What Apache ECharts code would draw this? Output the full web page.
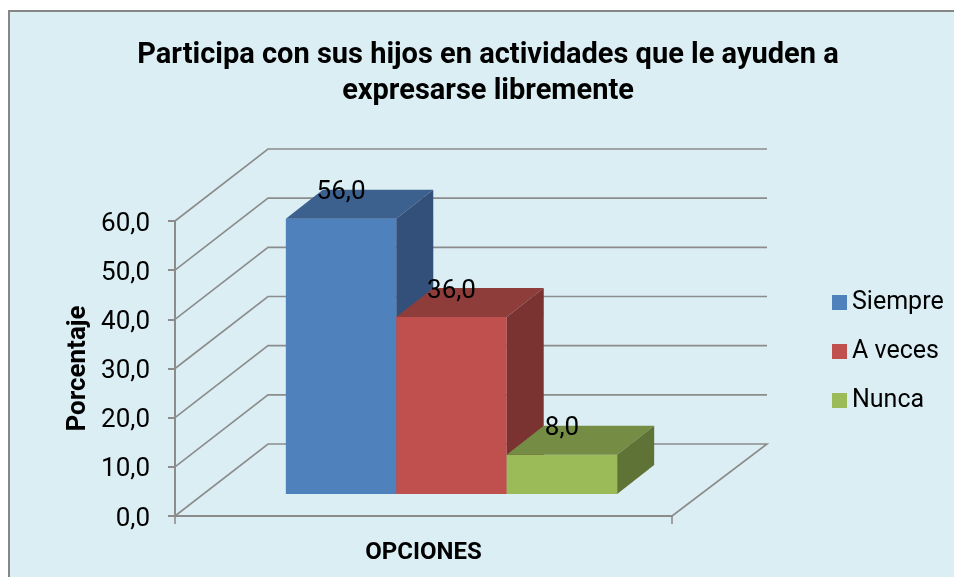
<!DOCTYPE html>
<html>
<head>
<meta charset="utf-8">
<title>Participa con sus hijos</title>
<style>
  html, body { margin: 0; padding: 0; background: #fff; }
  #chart { width: 954px; height: 577px; }
</style>
<script src="https://cdn.jsdelivr.net/npm/echarts@6/dist/echarts.min.js"></script>
</head>
<body>
<div id="chart"></div>
<script>
var categories = ['']
var seriesNames = ['Siempre', 'A veces', 'Nunca']
var seriesValues = [56, 36, 8]
var yTicks = [0, 10, 20, 30, 40, 50, 60]

var colors = ['#4F81BD', '#C0504D', '#9BBB59']
var topColors = ['#3C618F', '#8F3D3B', '#748C43']
var sideColors = ['#325079', '#7A3331', '#5F7337']

var fontName = 'Roboto'
var lineColor = '#8C8C8C'
// wall depth and bar offset, pixels
var wallDx = 93
var wallRightDx = 95
var wallDy = 72
var barShiftX = 28
var barShiftY = 22
var barDepthX = 37
var barDepthY = 29

function fmt (v) {
  return v.toFixed(1).replace('.', ',')
}

function renderWall (params, api) {
  var p = api.coord([0, api.value(0)])
  var size = api.size([1, 0])
  var left = p[0] - size[0] / 2
  var right = p[0] + size[0] / 2
  var y = p[1]
  var pts = [[left, y], [left + wallDx, y - wallDy], [right + wallRightDx, y - wallDy]]
  var lineStyle = { fill: null, stroke: lineColor, lineWidth: 1.6 }
  var children = []
  if (api.value(0) === 0) {
    pts.push([right, y])
    // the axis draws no end ticks with a single category
    children.push({ type: 'line', shape: { x1: left, y1: y, x2: left, y2: y + 8 }, style: lineStyle })
    children.push({ type: 'line', shape: { x1: right, y1: y, x2: right, y2: y + 8 }, style: lineStyle })
  }
  children.push({ type: 'polyline', shape: { points: pts }, style: lineStyle })
  return { type: 'group', children: children }
}

function makeBar (idx) {
  return function (params, api) {
    var top = api.coord([0, api.value(1)])
    var base = api.coord([0, 0])
    var w = api.size([1, 0])[0] / 4.5
    var x0 = top[0] + barShiftX + (idx - 1.5) * w
    var x1 = x0 + w
    var y0 = top[1] - barShiftY
    var y1 = base[1] - barShiftY
    return {
      type: 'group',
      children: [{
        type: 'polygon',
        shape: { points: [[x0, y0], [x1, y0], [x1, y1], [x0, y1]] },
        style: { fill: colors[idx] }
      }, {
        type: 'polygon',
        shape: { points: [[x0, y0], [x0 + barDepthX, y0 - barDepthY], [x1 + barDepthX, y0 - barDepthY], [x1, y0]] },
        style: { fill: topColors[idx] }
      }, {
        type: 'polygon',
        shape: { points: [[x1, y0], [x1 + barDepthX, y0 - barDepthY], [x1 + barDepthX, y1 - barDepthY], [x1, y1]] },
        style: { fill: sideColors[idx] }
      }, {
        type: 'text',
        z2: 10,
        style: {
          x: (x0 + x1) / 2,
          y: y0 - 26,
          text: fmt(api.value(1)),
          fill: '#000',
          font: '26px ' + fontName,
          align: 'center',
          verticalAlign: 'middle'
        }
      }]
    }
  }
}

var series = [{
  type: 'custom',
  silent: true,
  clip: false,
  renderItem: renderWall,
  encode: { y: 0 },
  data: yTicks.map(function (v) { return [v] }),
  z: 1
}]
seriesNames.forEach(function (name, i) {
  series.push({
    name: name,
    type: 'custom',
    clip: false,
    renderItem: makeBar(i),
    encode: { x: 0, y: 1 },
    itemStyle: { color: colors[i] },
    data: [[0, seriesValues[i]]],
    z: 3 + i
  })
})

var option = {
  animation: false,
  backgroundColor: '#fff',
  textStyle: { fontFamily: fontName },
  title: {
    text: 'Participa con sus hijos en actividades que le ayuden a\nexpresarse libremente',
    left: 483,
    top: 33,
    textAlign: 'center',
    textStyle: {
      color: '#000',
      fontFamily: fontName,
      fontWeight: 'bold',
      fontSize: 29,
      lineHeight: 36
    }
  },
  legend: {
    data: seriesNames,
    orient: 'vertical',
    left: 832,
    top: 290,
    padding: 0,
    icon: 'rect',
    itemWidth: 15,
    itemHeight: 15,
    itemGap: 24,
    textStyle: { color: '#000', fontSize: 25, fontFamily: fontName }
  },
  grid: { left: 175, top: 221, width: 497, height: 295, outerBoundsMode: 'none' },
  xAxis: {
    type: 'category',
    data: categories,
    name: 'OPCIONES',
    nameLocation: 'middle',
    nameGap: 25,
    nameTextStyle: { color: '#000', fontWeight: 'bold', fontSize: 24, fontFamily: fontName },
    axisLine: { lineStyle: { color: lineColor, width: 2 } },
    axisTick: { show: false },
    axisLabel: { show: false }
  },
  yAxis: {
    type: 'value',
    min: 0,
    max: 60,
    interval: 10,
    name: 'Porcentaje',
    nameLocation: 'middle',
    nameRotate: 90,
    nameGap: 84,
    nameMoveOverlap: false,
    nameTextStyle: { color: '#000', fontWeight: 'bold', fontSize: 26, fontFamily: fontName },
    axisLine: { show: true, lineStyle: { color: lineColor, width: 2 } },
    axisTick: { show: true, length: 7, lineStyle: { color: lineColor, width: 2 } },
    // short line box, top aligned: sits the digits a little under the tick
    axisLabel: { color: '#000', fontSize: 26, margin: 25, verticalAlign: 'top', lineHeight: 6, formatter: fmt },
    splitLine: { show: false }
  },
  graphic: [{
    type: 'rect',
    z: -10,
    silent: true,
    shape: { x: 9, y: 11, width: 960, height: 580 },
    style: { fill: '#DBEEF4', stroke: '#868686', lineWidth: 2 }
  }],
  series: series
}

var chart = echarts.init(document.getElementById('chart'))
chart.setOption(option)
</script>
</body>
</html>
